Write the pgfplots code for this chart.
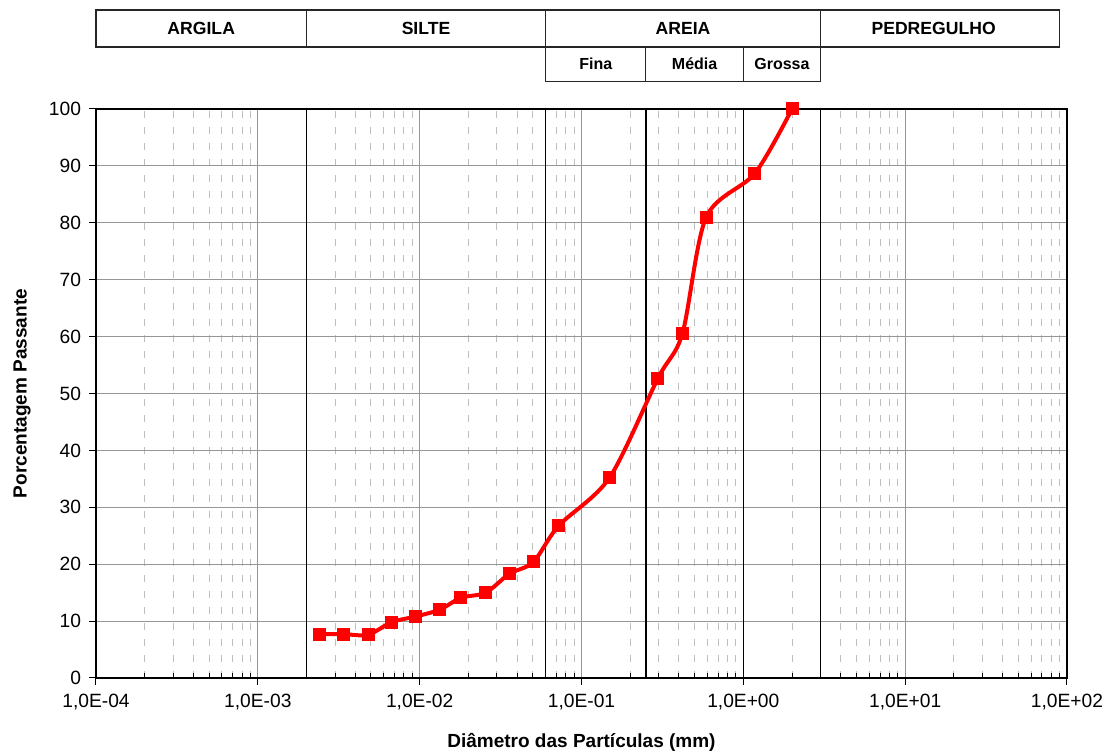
\documentclass[border=0pt]{standalone}
\usepackage{pgfplots}
\pgfplotsset{compat=1.18}
\usepackage{fontspec}
\setmainfont{Liberation Sans}
\definecolor{gridgray}{RGB}{150,150,150}
\definecolor{minorgray}{RGB}{190,190,190}
\begin{document}
\begin{tikzpicture}
\begin{axis}[
  at={(0,0)}, anchor=south west,
  scale only axis, width=485.5pt, height=284.5pt,
  xmode=log, log basis x=10,
  xmin=1e-4, xmax=1e2, ymin=0, ymax=100,
  clip=false,
  axis line style={black, line width=0.7pt},
  xtick={1e-4,1e-3,1e-2,1e-1,1,10,100},
  xticklabels={{1,0E-04},{1,0E-03},{1,0E-02},{1,0E-01},{1,0E+00},{1,0E+01},{1,0E+02}},
  minor xtick={2e-4,3e-4,4e-4,5e-4,6e-4,7e-4,8e-4,9e-4,
               2e-3,3e-3,4e-3,5e-3,6e-3,7e-3,8e-3,9e-3,
               2e-2,3e-2,4e-2,5e-2,6e-2,7e-2,8e-2,9e-2,
               2e-1,3e-1,4e-1,5e-1,6e-1,7e-1,8e-1,9e-1,
               2,3,4,5,6,7,8,9,
               20,30,40,50,60,70,80,90},
  ytick={0,10,...,100},
  tick pos=left,
  tick align=outside,
  major tick length=3.5pt,
  minor tick length=-2.5pt,
  tick style={black, line width=0.5pt},
  xmajorgrids, xminorgrids, ymajorgrids,
  major grid style={gridgray, line width=0.5pt},
  minor grid style={minorgray, line width=0.5pt, dash pattern=on 3.5pt off 4.5pt},
  extra x ticks={0.002,0.06,0.25,1,3},
  extra x tick labels={},
  extra x tick style={grid=major, major grid style={black, line width=0.7pt}, major tick length=0pt},
  /pgf/number format/assume math mode=true,
  ticklabel style={font=\fontsize{9.6}{11}\selectfont},
  xticklabel style={yshift=-1pt},
  yticklabel style={xshift=-0.5pt},
  xlabel={Diâmetro das Partículas (mm)},
  ylabel={Porcentagem Passante},
  label style={font=\fontsize{9.5}{11}\selectfont\bfseries},
  xlabel style={anchor=center, at={(axis description cs:0.5,0)}, yshift=-32pt},
  ylabel style={anchor=center, at={(axis description cs:0,0.5)}, yshift=37pt},
]
\addplot[red, line width=2pt, smooth, tension=0.5, mark=square*, mark size=3pt,
         mark options={solid, fill=red, draw=red, line width=0pt}]
  table {
x y
0.0024 7.7
0.0034 7.7
0.0048 7.6
0.0067 9.8
0.0094 10.8
0.0133 12.0
0.0180 14.1
0.0256 15.0
0.0358 18.3
0.0504 20.4
0.0725 26.8
0.149 35.2
0.297 52.7
0.420 60.5
0.590 81.0
1.18 88.7
2.0 100
};
% classification table
\draw[black!85, line width=0.6pt] (axis cs:1e-4,110.9) rectangle (axis cs:90,117.4);
\draw[black!85, line width=0.6pt] (axis cs:0.002,110.9) -- (axis cs:0.002,117.4);
\draw[black!85, line width=0.6pt] (axis cs:0.06,110.9) -- (axis cs:0.06,117.4);
\draw[black!85, line width=0.6pt] (axis cs:3,110.9) -- (axis cs:3,117.4);
\draw[black!85, line width=0.6pt] (axis cs:0.06,104.9) rectangle (axis cs:3,110.9);
\draw[black!85, line width=0.6pt] (axis cs:0.25,104.9) -- (axis cs:0.25,110.9);
\draw[black!85, line width=0.6pt] (axis cs:1,104.9) -- (axis cs:1,110.9);
\begin{scope}[every node/.style={font=\fontsize{8.8}{10}\selectfont\bfseries, anchor=center}]
\node at (axis cs:4.47e-4,114.15) {ARGILA};
\node at (axis cs:0.01095,114.15) {SILTE};
\node at (axis cs:0.4243,114.15) {AREIA};
\node at (axis cs:15.0,114.15) {PEDREGULHO};
\end{scope}
\begin{scope}[every node/.style={font=\fontsize{8}{9}\selectfont\bfseries, anchor=center}]
\node at (axis cs:0.1225,107.9) {Fina};
\node at (axis cs:0.5,107.9) {Média};
\node at (axis cs:1.732,107.9) {Grossa};
\end{scope}
\end{axis}
\pgfresetboundingbox
\path (-48pt,-39pt) rectangle (510pt,339pt);
\end{tikzpicture}
\end{document}
